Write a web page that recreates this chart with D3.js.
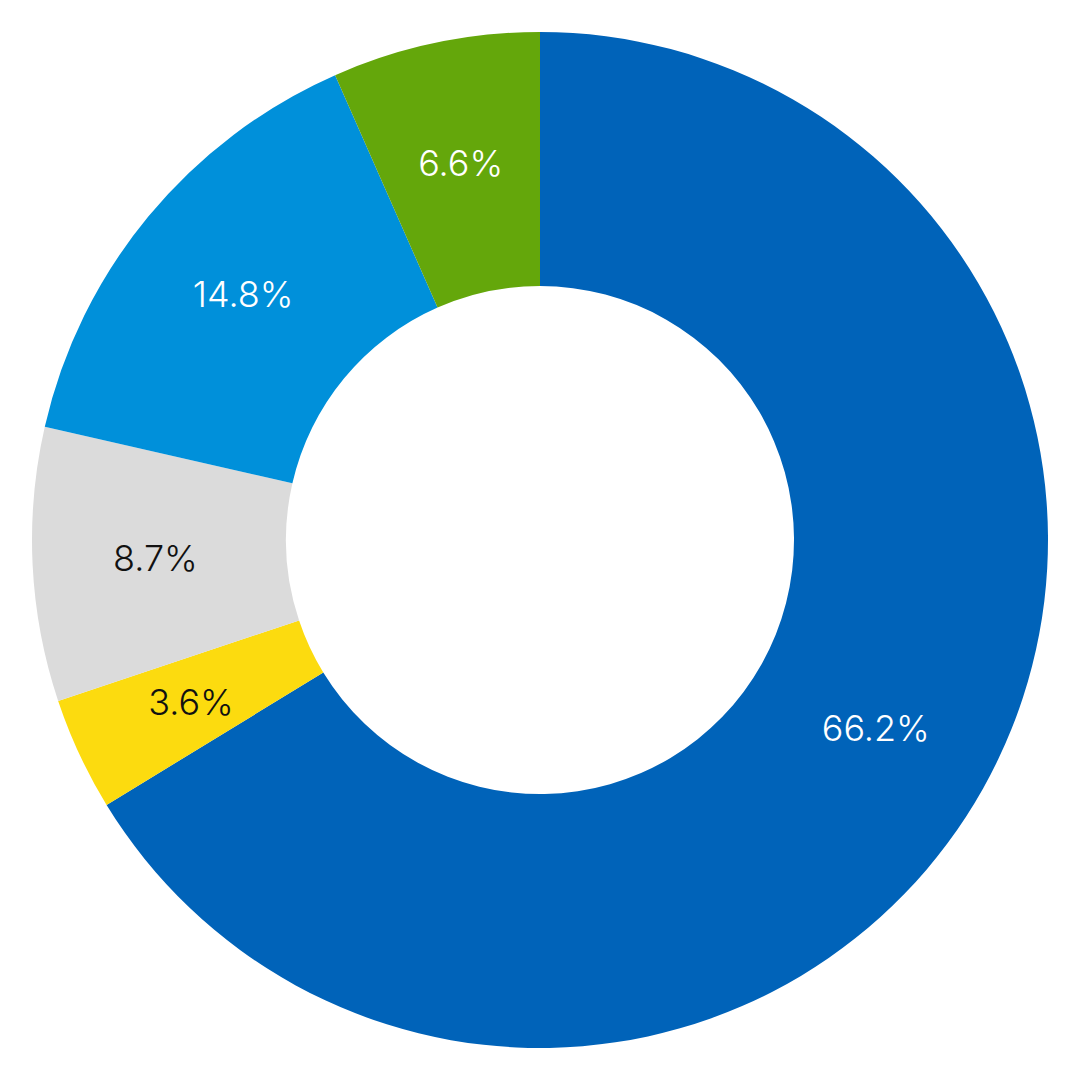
<!DOCTYPE html>
<meta charset="utf-8">
<body style="margin:0;background:#fff">
<script src="https://d3js.org/d3.v7.min.js"></script>
<script>

var labels = ["66.2%", "3.6%", "8.7%", "14.8%", "6.6%"];
var values = [66.2, 3.6, 8.7, 14.8, 6.6];
var colors = ["#0063b9", "#fcdb0f", "#dbdbdb", "#0090da", "#64a70b"];
var textColors = ["#fff", "#111", "#111", "#fff", "#fff"];

var svg = d3.select("body").append("svg")
    .attr("width", 1080)
    .attr("height", 1080);

var g = svg.append("g").attr("transform", "translate(540,540)");

var pie = d3.pie().sort(null).value(function(d) { return d; });
var arcs = pie(values);
var arc = d3.arc().innerRadius(254).outerRadius(508);
var labelArc = d3.arc().innerRadius(385).outerRadius(385);

g.selectAll("path")
    .data(arcs)
  .enter().append("path")
    .attr("d", arc)
    .attr("fill", function(d, i) { return colors[i]; });

g.selectAll("text")
    .data(arcs)
  .enter().append("text")
    .attr("transform", function(d) { return "translate(" + labelArc.centroid(d) + ")"; })
    .attr("text-anchor", "middle")
    .attr("dy", "0.35em")
    .attr("font-family", "Inter, 'Noto Sans', sans-serif")
    .attr("font-weight", 300)
    .attr("font-size", 36)
    .attr("fill", function(d, i) { return textColors[i]; })
    .text(function(d, i) { return labels[i]; });

</script>
</body>
